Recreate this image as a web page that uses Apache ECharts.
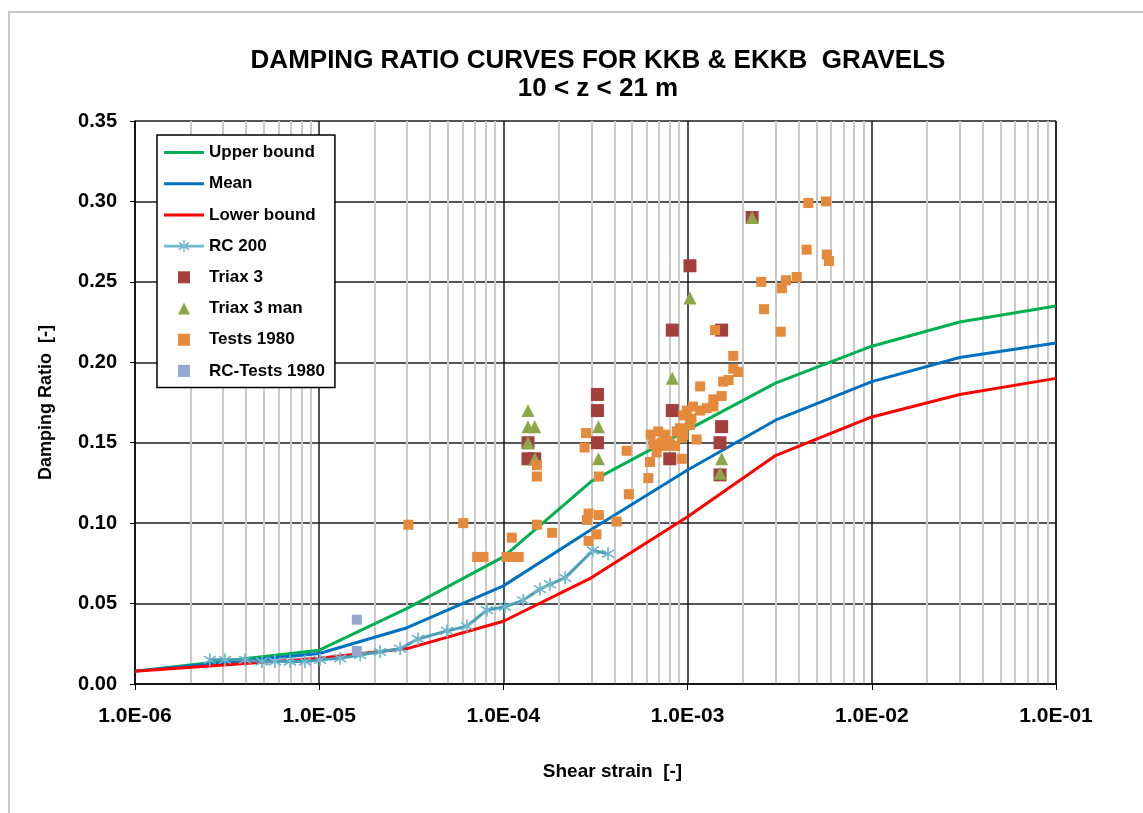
<!DOCTYPE html>
<html>
<head>
<meta charset="utf-8">
<script src="https://cdn.jsdelivr.net/npm/echarts@6/dist/echarts.min.js"></script>
<style>
  html, body { margin: 0; padding: 0; background: #fff; }
  #frame { position: absolute; left: 8px; top: 11px; width: 1135px; height: 802px;
           border-left: 2px solid #c8c8c8; border-top: 2px solid #c8c8c8; box-sizing: border-box; }
  #chart { position: absolute; left: 0; top: 0; width: 1143px; height: 813px; }
</style>
</head>
<body>
<div id="frame"></div>
<div id="chart"></div>
<script>
// curve strains and values
const curveStrain = [1e-6, 1e-5, 3e-5, 1e-4, 3e-4, 1e-3, 3e-3, 1e-2, 3e-2, 1e-1];
const upperBound = [0.008, 0.021, 0.047, 0.079, 0.126, 0.158, 0.187, 0.210, 0.225, 0.235];
const meanCurve = [0.008, 0.019, 0.035, 0.061, 0.096, 0.133, 0.164, 0.188, 0.203, 0.212];
const lowerBound = [0.008, 0.016, 0.022, 0.039, 0.066, 0.104, 0.142, 0.166, 0.180, 0.190];

// RC 200 test
const rc200 = [
  [2.55e-6, 0.015], [3.08e-6, 0.015], [3.96e-6, 0.015], [4.89e-6, 0.014], [5.75e-6, 0.014],
  [6.94e-6, 0.014], [8.37e-6, 0.014], [1.01e-5, 0.015], [1.30e-5, 0.016], [1.67e-5, 0.018],
  [2.14e-5, 0.020], [2.75e-5, 0.022], [3.44e-5, 0.028], [4.94e-5, 0.033], [6.34e-5, 0.036],
  [8.14e-5, 0.046], [1.02e-4, 0.048], [1.28e-4, 0.052], [1.58e-4, 0.059], [1.79e-4, 0.062],
  [2.16e-4, 0.066], [3.06e-4, 0.083], [3.70e-4, 0.081]
];

const triax3 = [
  [1.36e-4, 0.150], [1.36e-4, 0.140], [1.48e-4, 0.140],
  [3.24e-4, 0.180], [3.24e-4, 0.170], [3.24e-4, 0.150],
  [1.03e-3, 0.260], [8.26e-4, 0.220], [1.53e-3, 0.220], [8.26e-4, 0.170],
  [1.53e-3, 0.160], [1.50e-3, 0.150], [8.0e-4, 0.140], [1.50e-3, 0.130], [2.24e-3, 0.290]
];

const triax3man = [
  [1.36e-4, 0.170], [1.36e-4, 0.160], [1.48e-4, 0.160], [1.36e-4, 0.150], [1.48e-4, 0.140],
  [3.28e-4, 0.160], [3.28e-4, 0.140],
  [1.03e-3, 0.240], [8.26e-4, 0.190], [8.3e-4, 0.150], [1.53e-3, 0.140], [1.50e-3, 0.131],
  [2.24e-3, 0.290]
];

const tests1980 = [
  [3.05e-5, 0.099], [6.05e-5, 0.100], [7.2e-5, 0.079], [7.8e-5, 0.079], [1.04e-4, 0.079],
  [1.13e-4, 0.079], [1.21e-4, 0.079], [1.11e-4, 0.091], [1.52e-4, 0.099], [1.84e-4, 0.094],
  [1.52e-4, 0.136], [1.52e-4, 0.129], [2.81e-4, 0.156], [2.76e-4, 0.147], [3.3e-4, 0.129],
  [2.9e-4, 0.106], [2.84e-4, 0.102], [3.3e-4, 0.105], [3.2e-4, 0.093], [2.9e-4, 0.089],
  [4.12e-4, 0.101], [4.67e-4, 0.145], [4.8e-4, 0.118], [6.25e-4, 0.138], [6.12e-4, 0.128],
  [6.3e-4, 0.155], [6.93e-4, 0.157], [7.53e-4, 0.155], [6.52e-4, 0.149], [7.23e-4, 0.150],
  [7.85e-4, 0.151], [6.79e-4, 0.144], [7.5e-4, 0.148], [8.55e-4, 0.148], [9.1e-4, 0.159],
  [8.73e-4, 0.157], [9.5e-4, 0.155], [1.03e-3, 0.161], [9.3e-4, 0.153], [9.3e-4, 0.140],
  [1.12e-3, 0.152], [1.07e-3, 0.1725], [9.9e-4, 0.170], [9.5e-4, 0.167], [1.05e-3, 0.165],
  [1.17e-3, 0.170], [1.27e-3, 0.1715], [1.38e-3, 0.1725], [1.38e-3, 0.177], [1.53e-3, 0.179],
  [1.56e-3, 0.188], [1.67e-3, 0.189], [1.17e-3, 0.185], [1.77e-3, 0.196], [1.88e-3, 0.194],
  [1.77e-3, 0.204], [1.41e-3, 0.220], [2.51e-3, 0.250], [3.42e-3, 0.251], [3.91e-3, 0.253],
  [3.25e-3, 0.246], [2.6e-3, 0.233], [3.2e-3, 0.219], [4.43e-3, 0.270], [5.7e-3, 0.267],
  [5.85e-3, 0.263], [4.52e-3, 0.299], [5.64e-3, 0.300]
];

const rcTests1980 = [[1.6e-5, 0.040], [1.6e-5, 0.0205]];

const xTickDecades = [-6, -5, -4, -3, -2];
const minorMultipliers = [2, 3, 4, 5, 6, 7, 8, 9];

// minor grid lines at 2..9 x 10^n, drawn as vertical segments through the axes
let minorLines = [];
xTickDecades.forEach(e => {
  minorMultipliers.forEach(m => {
    let x = m * Math.pow(10, e);
    minorLines.push({ coords: [[x, 0], [x, 0.35]] });
  });
});

const starPath = "path://M4.4 0 L5.6 0 L5.6 10 L4.4 10 Z M0.4 2.6 L1.1 1.6 L9.6 7.4 L8.9 8.4 Z M8.9 1.6 L9.6 2.6 L1.1 8.4 L0.4 7.4 Z";
const lineIcon = "path://M0 0 L40 0 L40 3 L0 3 Z";
const starLineIcon = "path://M0 4.6 L40 4.6 L40 7.4 L0 7.4 Z M19.3 0 L20.7 0 L20.7 12 L19.3 12 Z M14.5 3.1 L15.3 1.9 L25.5 8.9 L24.7 10.1 Z M24.7 1.9 L25.5 3.1 L15.3 10.1 L14.5 8.9 Z";
const squareIcon = "path://M0 0 L10 0 L10 10 L0 10 Z";
const triangleIcon = "path://M5 0 L10 10 L0 10 Z";
const font = "Liberation Sans";

function pairs(xs, ys) {
  return xs.map((x, i) => [x, ys[i]]);
}

function fmtExp(v) {
  let s = v.toExponential(1).toUpperCase();
  let parts = s.split("E");
  let exp = parseInt(parts[1], 10);
  let sign = exp < 0 ? "-" : "+";
  let abs = Math.abs(exp);
  return parts[0] + "E" + sign + (abs < 10 ? "0" + abs : abs);
}

let myChart = echarts.init(document.getElementById("chart"));
let option = {
  animation: false,
  textStyle: { fontFamily: font },
  title: {
    text: "DAMPING RATIO CURVES FOR KKB & EKKB  GRAVELS\n10 < z < 21 m",
    left: 593,
    top: 42,
    textAlign: "center",
    textStyle: { fontFamily: font, fontSize: 26, fontWeight: "bold", color: "#000", lineHeight: 28 }
  },
  legend: {
    data: [
      { name: "Upper bound", icon: lineIcon },
      { name: "Mean", icon: lineIcon },
      { name: "Lower bound", icon: lineIcon },
      { name: "RC 200", icon: starLineIcon },
      { name: "Triax 3", icon: squareIcon },
      { name: "Triax 3 man", icon: triangleIcon },
      { name: "Tests 1980", icon: squareIcon },
      { name: "RC-Tests 1980", icon: squareIcon }
    ],
    orient: "vertical",
    left: 157,
    top: 135,
    padding: [9, 10, 8, 7],
    itemWidth: 40,
    itemHeight: 12,
    itemGap: 14.2,
    symbolKeepAspect: true,
    backgroundColor: "#fff",
    borderColor: "#000",
    borderWidth: 1.5,
    textStyle: { fontFamily: font, fontSize: 17, fontWeight: "bold", color: "#000" }
  },
  grid: { left: 135, right: 87, top: 121, bottom: 129 },
  xAxis: {
    type: "log",
    logBase: 10,
    min: 1e-6,
    max: 1e-1,
    name: "Shear strain  [-]",
    nameLocation: "middle",
    nameGap: 78,
    nameTextStyle: { fontFamily: font, fontSize: 19, fontWeight: "bold", color: "#000", padding: [0, 0, 0, 34] },
    axisLine: { onZero: false, lineStyle: { color: "#000", width: 1.5 } },
    axisTick: { show: true, inside: false, length: 6, lineStyle: { color: "#000" } },
    axisLabel: { formatter: fmtExp, margin: 22, fontFamily: font, fontSize: 21, fontWeight: "bold", color: "#000" },
    splitLine: { show: true, lineStyle: { color: "#1a1a1a", width: 1.5 } }
  },
  yAxis: {
    type: "value",
    min: 0,
    max: 0.35,
    interval: 0.05,
    name: "Damping Ratio  [-]",
    nameLocation: "middle",
    nameGap: 80,
    nameTextStyle: { fontFamily: font, fontSize: 18, fontWeight: "bold", color: "#000" },
    axisLine: { show: true, lineStyle: { color: "#000", width: 1.5 } },
    axisTick: { show: true, inside: false, length: 5, lineStyle: { color: "#000" } },
    axisLabel: { formatter: v => v.toFixed(2), margin: 18, fontFamily: font, fontSize: 20, fontWeight: "bold", color: "#000" },
    splitLine: { show: true, lineStyle: { color: "#555", width: 2 } }
  },
  series: [
    {
      name: "minor grid",
      type: "lines",
      coordinateSystem: "cartesian2d",
      data: minorLines,
      z: 0,
      silent: true,
      lineStyle: { color: "#c9c9c9", width: 2, opacity: 1 }
    },
    {
      name: "Upper bound", type: "line", data: pairs(curveStrain, upperBound),
      symbol: "none", color: "#00b050", lineStyle: { width: 3, color: "#00b050" }, z: 2
    },
    {
      name: "Mean", type: "line", data: pairs(curveStrain, meanCurve),
      symbol: "none", color: "#0070c0", lineStyle: { width: 3, color: "#0070c0" }, z: 2
    },
    {
      name: "Lower bound", type: "line", data: pairs(curveStrain, lowerBound),
      symbol: "none", color: "#ff0000", lineStyle: { width: 3, color: "#ff0000" }, z: 2
    },
    {
      name: "RC 200", type: "line", data: rc200,
      symbol: starPath, symbolSize: 13, showSymbol: true,
      color: "#4a9db6",
      itemStyle: { color: "#6fb7cc" },
      lineStyle: { width: 3, color: "#4a9db6" }, z: 3
    },
    {
      name: "Triax 3", type: "scatter", data: triax3,
      symbol: "rect", symbolSize: 13, itemStyle: { color: "#a3403d", opacity: 1 }, z: 4
    },
    {
      name: "Triax 3 man", type: "scatter", data: triax3man,
      symbol: "triangle", symbolSize: 13, itemStyle: { color: "#8ea64b", opacity: 1 }, z: 4
    },
    {
      name: "Tests 1980", type: "scatter", data: tests1980,
      symbol: "rect", symbolSize: 10, itemStyle: { color: "#e5893a", opacity: 1 }, z: 4
    },
    {
      name: "RC-Tests 1980", type: "scatter", data: rcTests1980,
      symbol: "rect", symbolSize: 10, itemStyle: { color: "#95a8cf", opacity: 1 }, z: 4
    }
  ]
};
myChart.setOption(option);
</script>
</body>
</html>
